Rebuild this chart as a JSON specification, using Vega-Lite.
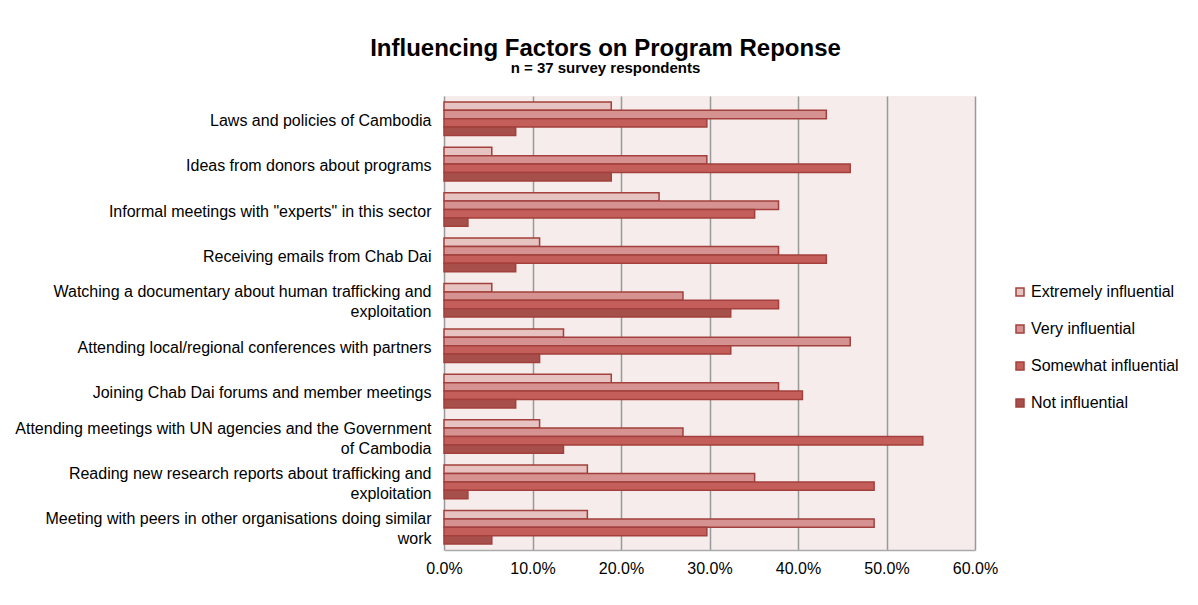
{
  "$schema": "https://vega.github.io/schema/vega-lite/v6.json",
  "width": 531,
  "height": 454,
  "autosize": {"type": "none"},
  "padding": {"left": 444, "top": 96, "right": 223, "bottom": 55},
  "background": "white",
  "title": {
    "text": "Influencing Factors on Program Reponse",
    "subtitle": "n = 37 survey respondents",
    "font": "Liberation Sans",
    "fontSize": 24,
    "fontWeight": "bold",
    "subtitleFont": "Liberation Sans",
    "subtitleFontSize": 15,
    "subtitleFontWeight": "bold",
    "subtitleColor": "black",
    "subtitlePadding": 0,
    "color": "black",
    "anchor": "middle",
    "dx": -104,
    "offset": 20
  },
  "data": {
    "values": [
      {"factor": "Laws and policies of Cambodia ", "level": "Extremely influential", "value": 0.189},
      {"factor": "Laws and policies of Cambodia ", "level": "Very influential", "value": 0.432},
      {"factor": "Laws and policies of Cambodia ", "level": "Somewhat influential", "value": 0.297},
      {"factor": "Laws and policies of Cambodia ", "level": "Not influential", "value": 0.081},
      {"factor": "Ideas from donors about programs", "level": "Extremely influential", "value": 0.054},
      {"factor": "Ideas from donors about programs", "level": "Very influential", "value": 0.297},
      {"factor": "Ideas from donors about programs", "level": "Somewhat influential", "value": 0.459},
      {"factor": "Ideas from donors about programs", "level": "Not influential", "value": 0.189},
      {"factor": "Informal meetings with \"experts\" in this sector", "level": "Extremely influential", "value": 0.243},
      {"factor": "Informal meetings with \"experts\" in this sector", "level": "Very influential", "value": 0.378},
      {"factor": "Informal meetings with \"experts\" in this sector", "level": "Somewhat influential", "value": 0.351},
      {"factor": "Informal meetings with \"experts\" in this sector", "level": "Not influential", "value": 0.027},
      {"factor": "Receiving emails from Chab Dai", "level": "Extremely influential", "value": 0.108},
      {"factor": "Receiving emails from Chab Dai", "level": "Very influential", "value": 0.378},
      {"factor": "Receiving emails from Chab Dai", "level": "Somewhat influential", "value": 0.432},
      {"factor": "Receiving emails from Chab Dai", "level": "Not influential", "value": 0.081},
      {"factor": "Watching a documentary about human trafficking and|exploitation", "level": "Extremely influential", "value": 0.054},
      {"factor": "Watching a documentary about human trafficking and|exploitation", "level": "Very influential", "value": 0.270},
      {"factor": "Watching a documentary about human trafficking and|exploitation", "level": "Somewhat influential", "value": 0.378},
      {"factor": "Watching a documentary about human trafficking and|exploitation", "level": "Not influential", "value": 0.324},
      {"factor": "Attending local/regional conferences with partners", "level": "Extremely influential", "value": 0.135},
      {"factor": "Attending local/regional conferences with partners", "level": "Very influential", "value": 0.459},
      {"factor": "Attending local/regional conferences with partners", "level": "Somewhat influential", "value": 0.324},
      {"factor": "Attending local/regional conferences with partners", "level": "Not influential", "value": 0.108},
      {"factor": "Joining Chab Dai forums and member meetings", "level": "Extremely influential", "value": 0.189},
      {"factor": "Joining Chab Dai forums and member meetings", "level": "Very influential", "value": 0.378},
      {"factor": "Joining Chab Dai forums and member meetings", "level": "Somewhat influential", "value": 0.405},
      {"factor": "Joining Chab Dai forums and member meetings", "level": "Not influential", "value": 0.081},
      {"factor": "Attending meetings with UN agencies and the Government|of Cambodia ", "level": "Extremely influential", "value": 0.108},
      {"factor": "Attending meetings with UN agencies and the Government|of Cambodia ", "level": "Very influential", "value": 0.270},
      {"factor": "Attending meetings with UN agencies and the Government|of Cambodia ", "level": "Somewhat influential", "value": 0.541},
      {"factor": "Attending meetings with UN agencies and the Government|of Cambodia ", "level": "Not influential", "value": 0.135},
      {"factor": "Reading new research reports about trafficking and|exploitation", "level": "Extremely influential", "value": 0.162},
      {"factor": "Reading new research reports about trafficking and|exploitation", "level": "Very influential", "value": 0.351},
      {"factor": "Reading new research reports about trafficking and|exploitation", "level": "Somewhat influential", "value": 0.486},
      {"factor": "Reading new research reports about trafficking and|exploitation", "level": "Not influential", "value": 0.027},
      {"factor": "Meeting with peers in other organisations doing similar|work", "level": "Extremely influential", "value": 0.162},
      {"factor": "Meeting with peers in other organisations doing similar|work", "level": "Very influential", "value": 0.486},
      {"factor": "Meeting with peers in other organisations doing similar|work", "level": "Somewhat influential", "value": 0.297},
      {"factor": "Meeting with peers in other organisations doing similar|work", "level": "Not influential", "value": 0.054}
    ]
  },
  "mark": {"type": "bar", "stroke": "#a3403d", "strokeWidth": 1.5},
  "encoding": {
    "y": {
      "field": "factor",
      "type": "nominal",
      "sort": null,
      "title": null,
      "scale": {"paddingInner": 0.26, "paddingOuter": 0.13},
      "axis": {
        "labelExpr": "split(datum.label, '|')",
        "labelFont": "Liberation Sans",
        "labelFontSize": 16,
        "labelColor": "black",
        "labelLineHeight": 20,
        "labelLimit": 440,
        "labelPadding": 13,
        "labelOffset": {"condition": {"test": "indexof(datum.value, '|') >= 0", "value": -8}, "value": 2},
        "ticks": false,
        "domain": false
      }
    },
    "yOffset": {
      "field": "level",
      "type": "nominal",
      "sort": ["Extremely influential", "Very influential", "Somewhat influential", "Not influential"],
      "scale": {"paddingInner": 0, "paddingOuter": 0}
    },
    "x": {
      "field": "value",
      "type": "quantitative",
      "title": null,
      "scale": {"domain": [0, 0.6], "nice": false},
      "axis": {
        "format": ".1%",
        "values": [0, 0.1, 0.2, 0.3, 0.4, 0.5, 0.6],
        "labelFont": "Liberation Sans",
        "labelFontSize": 16,
        "labelColor": "black",
        "labelPadding": 10,
        "labelFlush": false,
        "ticks": false,
        "grid": true,
        "gridColor": "#999999",
        "gridWidth": 1.5,
        "domain": true,
        "domainColor": "#aaaaaa",
        "domainWidth": 1.5
      }
    },
    "color": {
      "field": "level",
      "type": "nominal",
      "sort": ["Extremely influential", "Very influential", "Somewhat influential", "Not influential"],
      "scale": {
        "domain": ["Extremely influential", "Very influential", "Somewhat influential", "Not influential"],
        "range": ["#e6c2c1", "#d69291", "#c45e5a", "#a74f4b"]
      },
      "legend": {
        "title": null,
        "orient": "none",
        "legendX": 568,
        "legendY": 188,
        "symbolType": "square",
        "symbolSize": 64,
        "symbolStrokeColor": "#a3403d",
        "symbolStrokeWidth": 1.5,
        "labelFont": "Liberation Sans",
        "labelFontSize": 16,
        "labelColor": "black",
        "labelOffset": 3,
        "rowPadding": 21,
        "labelLimit": 300
      }
    }
  },
  "config": {
    "view": {"fill": "#f5eceb", "stroke": null}
  }
}
